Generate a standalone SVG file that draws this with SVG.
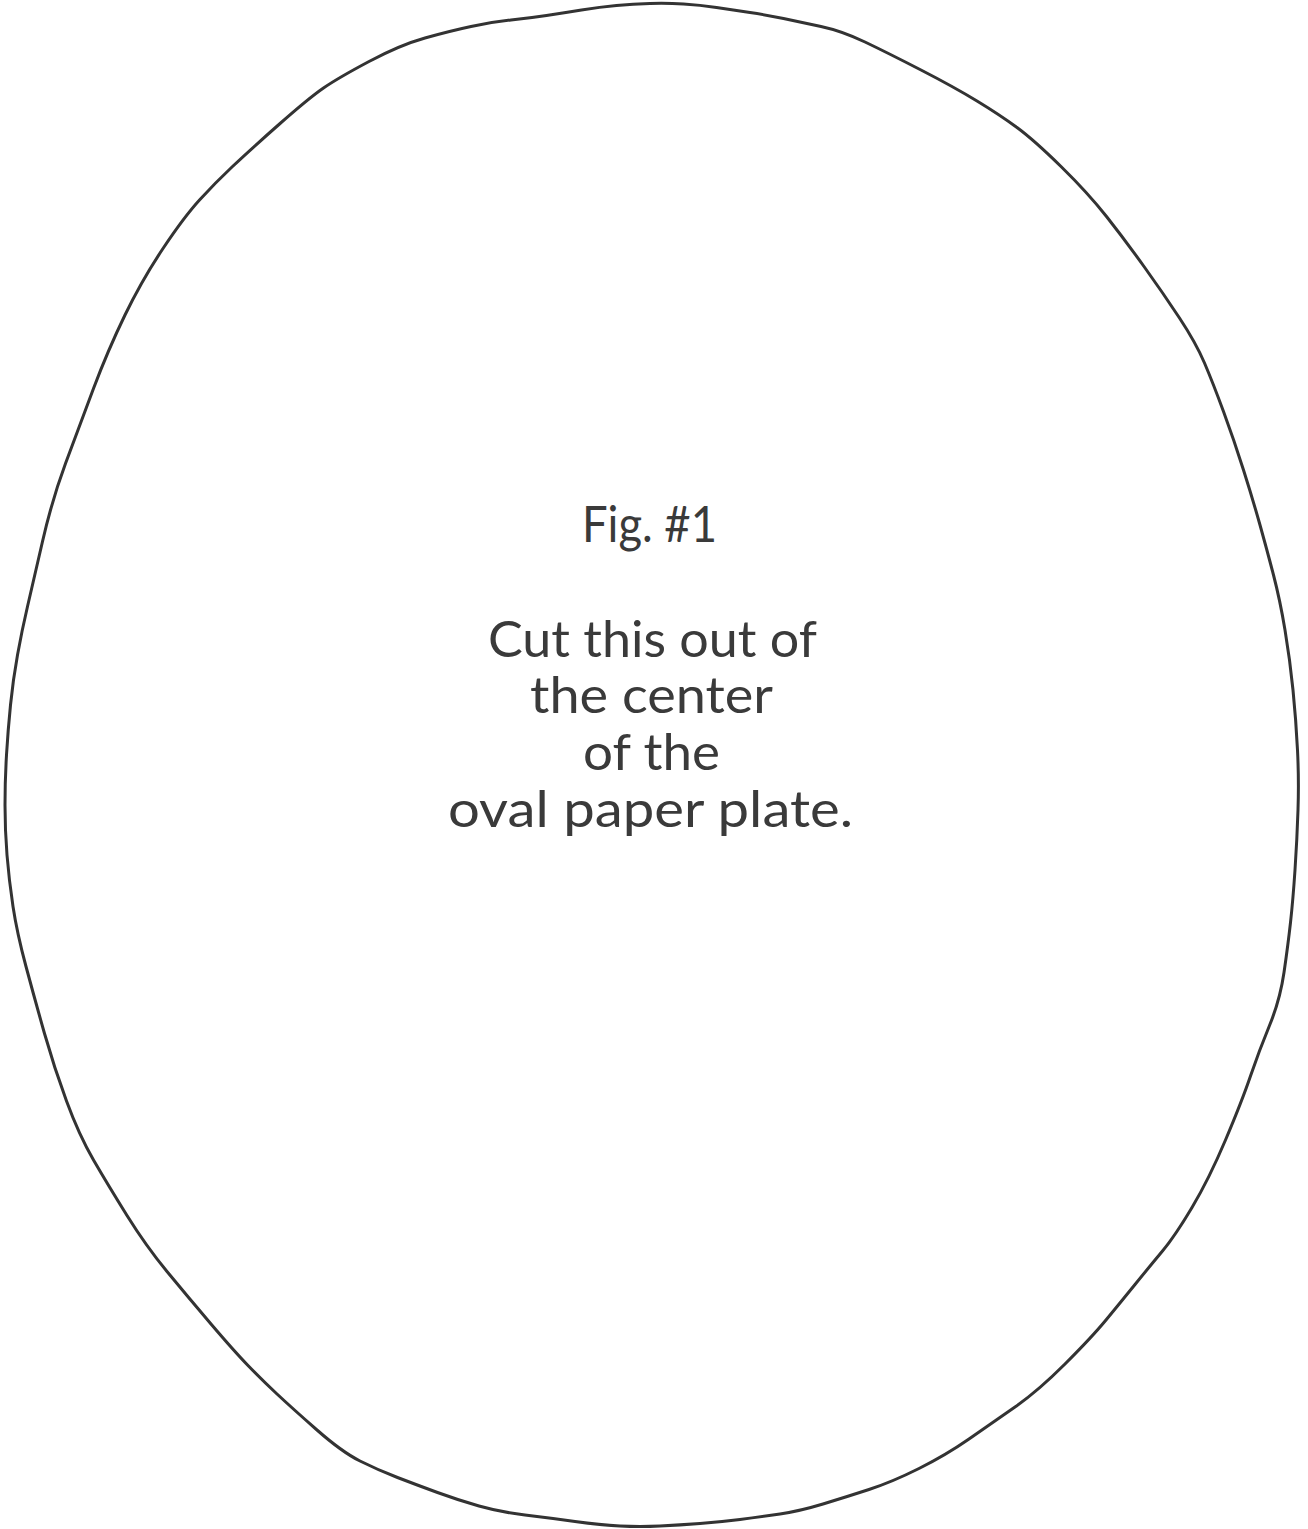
<svg xmlns="http://www.w3.org/2000/svg" width="1308" height="1529" viewBox="0 0 1308 1529">
  <style>
    .outline { fill: none; stroke: #333333; stroke-width: 3; stroke-linejoin: round; stroke-linecap: round; }
    .label { font-family: Lato, "Liberation Sans", sans-serif; font-size: 50px; fill: #3a3a3a; }
  </style>
  <rect x="0" y="0" width="1308" height="1529" fill="#ffffff"/>
  <g id="plate-outline">
    <path class="outline" d="M650,3.5 Q667,3 683.5,4 Q700,5 716.5,7.5 Q733,10 750,12.5 Q767,15 783.5,18.5 Q800,22 821,26.5 Q842,31 865,42 Q888,53 921,70 Q954,87 977,101 Q1000,115 1017,127.5 Q1034,140 1061,166.5 Q1088,193 1106.5,216.5 Q1125,240 1144,266.5 Q1163,293 1179.5,318 Q1196,343 1204.5,363 Q1213,383 1223.5,411.5 Q1234,440 1243.5,470 Q1253,500 1260,525 Q1267,550 1273.5,575 Q1280,600 1285,630 Q1290,660 1293,690 Q1296,720 1297.5,750 Q1299,780 1298,810 Q1297,840 1295,870 Q1293,900 1290.5,922.5 Q1288,945 1284,972.5 Q1280,1000 1269.5,1025.5 Q1259,1051 1250.5,1076 Q1242,1101 1225.5,1140 Q1209,1179 1192,1207.5 Q1175,1236 1162.5,1251 Q1150,1266 1135,1284.5 Q1120,1303 1106,1320 Q1092,1337 1065,1364 Q1038,1391 1015,1407 Q992,1423 969,1439 Q946,1455 919,1468.5 Q892,1482 869,1489.5 Q846,1497 823,1504 Q800,1511 780,1514 Q760,1517 740,1519.5 Q720,1522 700,1523.5 Q680,1525 660,1526 Q640,1527 620,1526 Q600,1525 575,1521.5 Q550,1518 525,1515 Q500,1512 479,1506 Q458,1500 437.5,1492.5 Q417,1485 397.5,1477.5 Q378,1470 360,1461 Q342,1452 317,1430 Q292,1408 277,1394 Q262,1380 248,1365.5 Q234,1351 211,1324 Q188,1297 167,1271.5 Q146,1246 127,1215.5 Q108,1185 93.5,1160 Q79,1135 66.5,1101 Q54,1067 44.5,1033.5 Q35,1000 26,966.5 Q17,933 13,906.5 Q9,880 7,855 Q5,830 5,805 Q5,780 6.5,755 Q8,730 10.5,705 Q13,680 17.5,655 Q22,630 27.5,606.5 Q33,583 42.5,541.5 Q52,500 65.5,463.5 Q79,427 93.5,388.5 Q108,350 125,315 Q142,280 163,248.5 Q184,217 199.5,200 Q215,183 232.5,166.5 Q250,150 279.5,124 Q309,98 323.5,88 Q338,78 369,61.5 Q400,45 425,38 Q450,31 471,26.5 Q492,22 511,20 Q530,18 546.5,15.5 Q563,13 581.5,10 Q600,7 616.5,5.5 Q633,4 650,3.5 Z"/>
  </g>
  <g id="caption">
    <text class="label" x="582" y="542" textLength="135" lengthAdjust="spacingAndGlyphs">Fig. #1</text>
    <text class="label" x="488" y="657" textLength="329" lengthAdjust="spacingAndGlyphs">Cut this out of</text>
    <text class="label" x="530" y="713" textLength="243" lengthAdjust="spacingAndGlyphs">the center</text>
    <text class="label" x="583" y="770" textLength="137" lengthAdjust="spacingAndGlyphs">of the</text>
    <text class="label" x="448" y="827" textLength="405" lengthAdjust="spacingAndGlyphs">oval paper plate.</text>
  </g>
</svg>
